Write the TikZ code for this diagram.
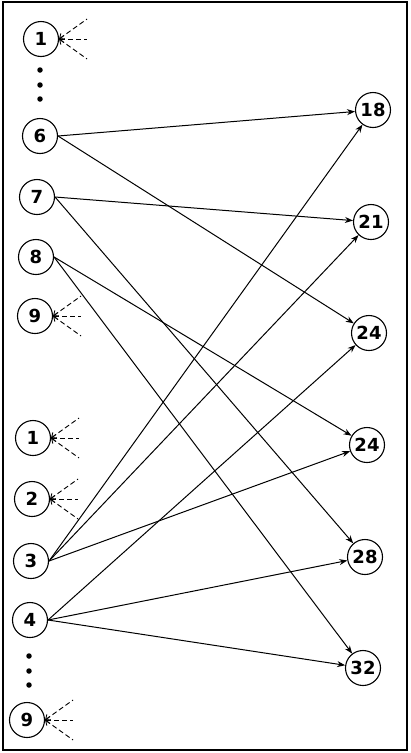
\documentclass[tikz,border=0pt]{standalone}
\usepackage{fontspec}
\setmainfont{DejaVu Sans}
\usetikzlibrary{arrows.meta}
\tikzset{
  vtx/.style={draw, line width=1.1pt, circle, inner sep=0pt, minimum size=35pt, font=\fontsize{18}{18}\selectfont\bfseries},
  edge/.style={line width=1pt, -{Stealth[length=8pt,width=6pt]}},
  stub/.style={line width=0.9pt, dash pattern=on 5pt off 3pt, {Straight Barb[length=4pt,width=7pt]}-},
  dotmark/.style={fill, circle, inner sep=0pt, minimum size=5.5pt}
}
\begin{document}
\begin{tikzpicture}[x=1pt,y=-1pt]
\useasboundingbox (0,0) rectangle (410,753);
\draw[line width=1.4pt] (3,2) rectangle (407,750);
% left nodes
\node[vtx] (L1a) at (41,39) {1};
\node[vtx] (L6) at (40,136) {6};
\node[vtx] (L7) at (37,197) {7};
\node[vtx] (L8) at (36,257) {8};
\node[vtx] (L9a) at (35,316) {9};
\node[vtx] (L1b) at (33,438) {1};
\node[vtx] (L2) at (32,499) {2};
\node[vtx] (L3) at (31,561) {3};
\node[vtx] (L4) at (30,620) {4};
\node[vtx] (L9b) at (27,720) {9};
% dots
\node[dotmark] (d1) at (40,70) {};
\node[dotmark] (d2) at (40,85) {};
\node[dotmark] (d3) at (40,99) {};
\node[dotmark] (d4) at (29,656) {};
\node[dotmark] (d5) at (29,671) {};
\node[dotmark] (d6) at (29,685) {};
% right nodes
\node[vtx] (R18) at (373,110) {18};
\node[vtx] (R21) at (371,222) {21};
\node[vtx] (R24a) at (369,333) {24};
\node[vtx] (R24b) at (367,445) {24};
\node[vtx] (R28) at (365,557) {28};
\node[vtx] (R32) at (363,668) {32};
% edges
\draw[edge] (L6.east) -- (R18);
\draw[edge] (L6.east) -- (R24a);
\draw[edge] (L7.east) -- (R21);
\draw[edge] (L7.east) -- (R28);
\draw[edge] (L8.east) -- (R24b);
\draw[edge] (L8.east) -- (R32);
\draw[edge] (L3.east) -- (R18);
\draw[edge] (L3.east) -- (R21);
\draw[edge] (L3.east) -- (R24b);
\draw[edge] (L4.east) -- (R24a);
\draw[edge] (L4.east) -- (R28);
\draw[edge] (L4.east) -- (R32);
% dashed stubs
\foreach \n in {L1a,L9a,L1b,L2,L9b}{
  \coordinate (\n u) at ([shift={(28,-20)}]\n.east);
  \coordinate (\n m) at ([shift={(28,0)}]\n.east);
  \coordinate (\n d) at ([shift={(28,20)}]\n.east);
  \draw[stub] (\n.east) -- (\n u);
  \draw[stub] (\n.east) -- (\n m);
  \draw[stub] (\n.east) -- (\n d);
}
\end{tikzpicture}
\end{document}
